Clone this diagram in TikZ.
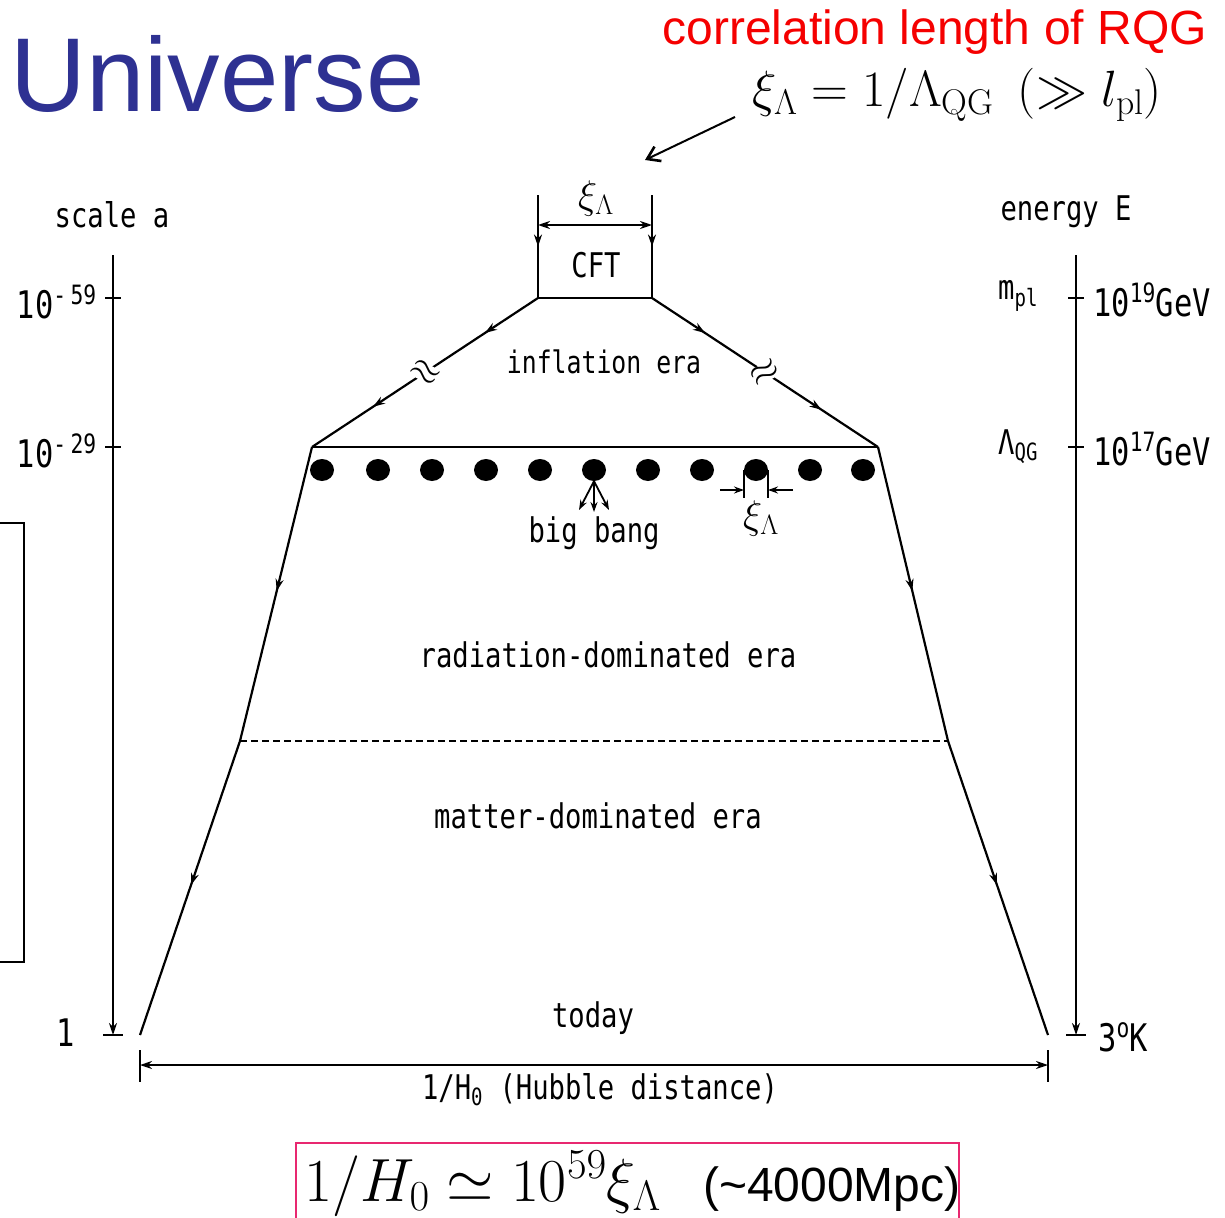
\RequirePackage{fix-cm}
\documentclass[tikz,border=0pt]{standalone}
\usepackage{fontspec}
\newfontfamily\arial{Liberation Sans}
\newfontfamily\goth[FakeStretch=0.8]{DejaVu Sans Mono}
\usetikzlibrary{arrows.meta,decorations.markings,calc,shapes.geometric}
\definecolor{univblue}{RGB}{46,49,146}
\definecolor{rqgred}{RGB}{245,0,0}
\definecolor{boxpink}{RGB}{232,40,112}
\begin{document}
\begin{tikzpicture}[x=1pt,y=-1pt,
  g/.style={font=\goth\fontsize{34}{36}\selectfont, inner sep=0pt},
  gn/.style={font=\goth\fontsize{38}{40}\selectfont, inner sep=0pt},
  ln/.style={line width=2.2pt, black},
  arrat/.style={postaction={decorate},decoration={markings, mark=at position #1 with {\arrow{Stealth[length=12pt,width=8pt]}}}},
  brk/.style={font=\fontsize{38}{38}\selectfont, inner sep=0pt, fill=white},
  xil/.style={inner sep=0pt, font=\fontsize{40}{40}\selectfont},
]
\useasboundingbox (0,0) rectangle (1225,1217);
\clip (0,0) rectangle (1225,1217);

% ---- titles ----
\node[anchor=base west, inner sep=0pt, text=univblue, font=\arial\fontsize{105}{110}\selectfont] (univ) at (10,112) {Universe};
\node[anchor=base east, inner sep=0pt, text=rqgred, font=\arial\fontsize{48}{50}\selectfont] (corr) at (1207,45) {correlation length of RQG};
\node[anchor=base west, inner sep=0pt, font=\fontsize{51}{53}\selectfont] (xiform) at (752,107) {$\xi_\Lambda = 1/\Lambda_{\mathrm{QG}}\ \,(\gg l_{\mathrm{pl}})$};
\coordinate (ptrS) at (735,117);
\coordinate (ptrE) at (645,160);
\draw[line width=2pt, -{Straight Barb[length=12pt,width=16pt,line width=2.6pt]}] (ptrS) -- (ptrE);

% ---- geometry ----
\coordinate (cftLt) at (538,195);
\coordinate (cftRt) at (652,195);
\coordinate (cftL) at (538,298);
\coordinate (cftR) at (652,298);
\coordinate (infL) at (312,447);
\coordinate (infR) at (878,447);
\coordinate (radL) at (240,741);
\coordinate (radR) at (948,741);
\coordinate (todL) at (140,1035);
\coordinate (todR) at (1048,1035);

\draw[ln, arrat=0.5] (cftLt) -- (cftL);
\draw[ln, arrat=0.5] (cftRt) -- (cftR);
\draw[ln] (cftL) -- (cftR);
\draw[ln, {Stealth[length=12pt,width=8pt]}-{Stealth[length=12pt,width=8pt]}] (538,225) -- (652,225);
\node[xil] (xitop) at (596,198) {$\xi_{\Lambda}$};
\node[g] (cft) at (596,265) {CFT};

\draw[ln, postaction={decorate}, decoration={markings,
   mark=at position 0.235 with {\arrow{Stealth[length=12pt,width=8pt]}},
   mark=at position 0.73 with {\arrow{Stealth[length=12pt,width=8pt]}}}] (cftL) -- (infL);
\draw[ln, postaction={decorate}, decoration={markings,
   mark=at position 0.235 with {\arrow{Stealth[length=12pt,width=8pt]}},
   mark=at position 0.75 with {\arrow{Stealth[length=12pt,width=8pt]}}}] (cftR) -- (infR);
\node[brk, rotate=-33] (brkL) at ($(cftL)!0.5!(infL)$) {$\approx$};
\node[brk, rotate=33] (brkR) at ($(cftR)!0.5!(infR)$) {$\approx$};
\draw[ln] (infL) -- (infR);
\node[g, font=\goth\fontsize{31}{33}\selectfont] (infl) at (604,362) {inflation era};

\draw[ln, arrat=0.49] (infL) -- (radL);
\draw[ln, arrat=0.49] (radL) -- (todL);
\draw[ln, arrat=0.49] (infR) -- (radR);
\draw[ln, arrat=0.49] (radR) -- (todR);
\draw[line width=1.7pt, dash pattern=on 7pt off 4pt] (radL) -- (radR);

% ---- big bang dots ----
\foreach \i/\x in {1/322,2/378,3/432,4/486,5/540,6/594,7/648,8/702,9/756,10/810,11/863}{
  \node[ellipse, fill=black, minimum width=24pt, minimum height=22pt, inner sep=0pt] (d\i) at (\x,470) {};
}
\coordinate (bb1) at (579,510);
\coordinate (bb2) at (594,512);
\coordinate (bb3) at (609,510);
\foreach \k in {1,2,3}{
  \draw[line width=1.8pt, -{Stealth[length=10pt,width=7pt]}] (d6.south) -- (bb\k);
}
\draw[line width=1.8pt] (744,470) -- (744,498);
\draw[line width=1.8pt] (768,470) -- (768,498);
\coordinate (mLs) at (720,490);
\coordinate (mLe) at (744,490);
\coordinate (mRs) at (793,490);
\coordinate (mRe) at (768,490);
\draw[line width=1.8pt, -{Stealth[length=10pt,width=7pt]}] (mLs) -- (mLe);
\draw[line width=1.8pt, -{Stealth[length=10pt,width=7pt]}] (mRs) -- (mRe);
\node[xil] (xidot) at (761,518) {$\xi_{\Lambda}$};

\node[g] (bigbang) at (594,533) {big bang};
\node[g] (rad) at (608,655) {radiation-dominated era};
\node[g] (mat) at (598,816) {matter-dominated era};
\node[g] (today) at (593,1018) {today};

% ---- Hubble distance ----
\draw[line width=2pt] (140,1050) -- (140,1082);
\draw[line width=2pt] (1048,1050) -- (1048,1082);
\draw[line width=2pt, {Stealth[length=12pt,width=8pt]}-{Stealth[length=12pt,width=8pt]}] (140,1065) -- (1048,1065);
\node[g] (hub) at (600,1090) {1/H\textsubscript{0} (Hubble distance)};

% ---- left axis ----
\coordinate (laT) at (113,255);
\coordinate (laB) at (113,1035);
\draw[line width=2pt, -{Stealth[length=12pt,width=8pt]}] (laT) -- (laB);
\draw[line width=2pt] (103,1035) -- (123,1035);
\draw[line width=2pt] (105,298) -- (121,298);
\draw[line width=2pt] (105,447) -- (121,447);
\node[g] (scalea) at (112,215) {scale a};
\node[gn, anchor=east] (a59) at (97,302) {10\textsuperscript{-\,59}};
\node[gn, anchor=east] (a29) at (97,451) {10\textsuperscript{-\,29}};
\node[gn] (a1) at (66,1033) {1};

% ---- right axis ----
\coordinate (raT) at (1076,255);
\coordinate (raB) at (1076,1035);
\draw[line width=2pt, -{Stealth[length=12pt,width=8pt]}] (raT) -- (raB);
\draw[line width=2pt] (1066,1035) -- (1086,1035);
\draw[line width=2pt] (1068,298) -- (1084,298);
\draw[line width=2pt] (1068,447) -- (1084,447);
\node[g] (energy) at (1066,212) {energy E};
\node[g, anchor=west] (mpl) at (998,296) {m\textsubscript{pl}};
\node[g, anchor=west] (lqg) at (998,447) {Λ\textsubscript{QG}};
\node[gn, anchor=west] (e19) at (1093,300) {10\textsuperscript{19}GeV};
\node[gn, anchor=west] (e17) at (1093,449) {10\textsuperscript{17}GeV};
\node[gn, anchor=west] (e3) at (1098,1037) {3\textsuperscript{o}K};

% ---- left box (cut) ----
\draw[line width=1.8pt] (-10,523) rectangle (24,962);

% ---- bottom formula ----
\draw[boxpink, line width=2pt] (296,1143) rectangle (959,1240);
\node[anchor=base west, inner sep=0pt, font=\fontsize{61}{63}\selectfont] (hform) at (304,1201) {$1/H_0 \simeq 10^{59}\xi_\Lambda$};
\node[anchor=base west, inner sep=0pt, font=\arial\fontsize{48}{50}\selectfont] (mpc) at (703,1201) {(\textasciitilde4000Mpc)};
\end{tikzpicture}
\end{document}
